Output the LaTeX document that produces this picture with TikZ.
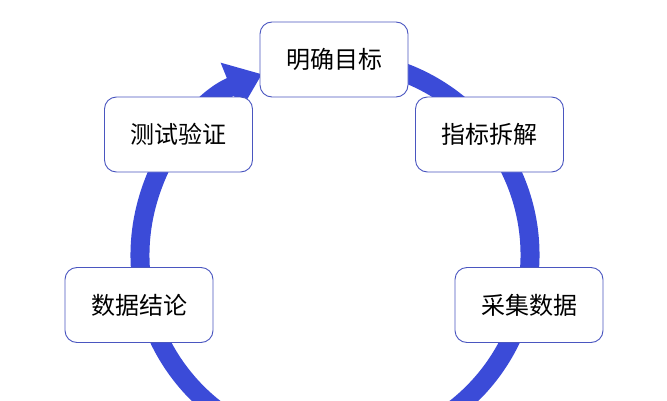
\documentclass[tikz,border=0pt]{standalone}
\usepackage{fontspec}
\newfontfamily\cjk{Noto Sans CJK SC}
\usetikzlibrary{arrows.meta}
\definecolor{ringblue}{HTML}{3B4BD8}
\definecolor{boxline}{HTML}{4A56C0}
\tikzset{
    stepbox/.style={draw=boxline, line width=0.9pt, fill=white, rounded corners=12pt,
        minimum width=148pt, minimum height=75pt, font=\cjk\fontsize{24pt}{28pt}\selectfont}
}
\begin{document}
\begin{tikzpicture}[x=1pt,y=1pt]
    \useasboundingbox (0,0) rectangle (667,400);
    % cycle ring
    \draw[ringblue, line width=19pt, -{Triangle[width=50pt,length=34pt]}]
        (335,145) ++(80:195) arc (80:-248:195);

    \node[stepbox] (goal) at (334,340.5) {明确目标};
    \node[stepbox] (split) at (489.5,265.5) {指标拆解};
    \node[stepbox] (collect) at (529,95) {采集数据};
    \node[stepbox] (conclude) at (139,95) {数据结论};
    \node[stepbox] (test) at (178.5,265.5) {测试验证};
\end{tikzpicture}
\end{document}
